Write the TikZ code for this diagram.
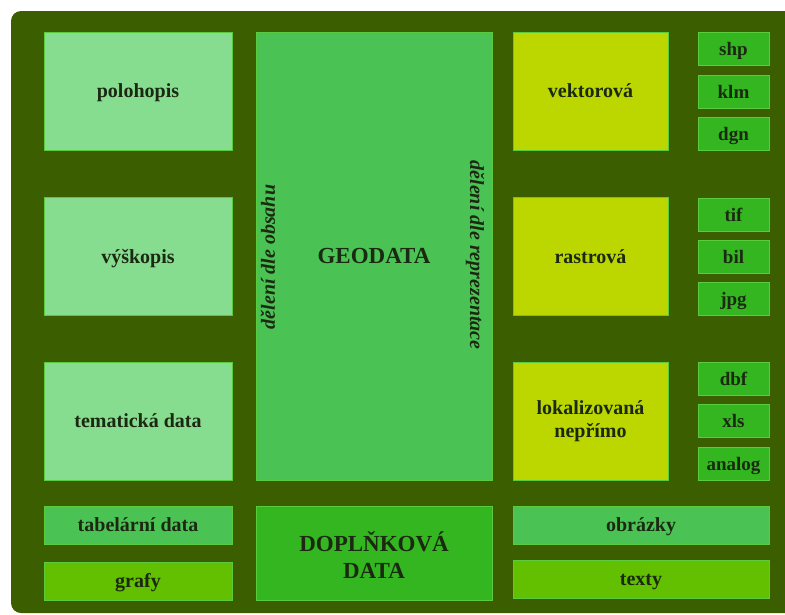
\documentclass[tikz,border=0pt]{standalone}
\usepackage{fontspec}
\setmainfont{Liberation Serif}
\usetikzlibrary{positioning}

\definecolor{bgolive}{HTML}{3B5E00}
\definecolor{palegreen}{HTML}{86DC8F}
\definecolor{midgreen}{HTML}{4BC354}
\definecolor{limegreen}{HTML}{BCD600}
\definecolor{deepgreen}{HTML}{33B61F}
\definecolor{grassgreen}{HTML}{62C000}
\definecolor{inkgreen}{HTML}{1B2912}
\definecolor{edgegreen}{HTML}{5ACB3C}

\tikzset{
  box/.style={rectangle, draw=edgegreen, line width=0.8pt, inner sep=2pt,
    align=center, text=inkgreen, font=\fontsize{20}{23}\selectfont\bfseries},
  oneline/.style={text height=16pt, text depth=2.8pt},
  obsah/.style={box, oneline, fill=palegreen, minimum width=188, minimum height=118},
  repre/.style={box, fill=limegreen, minimum width=155, minimum height=118},
  format/.style={box, oneline, fill=deepgreen, minimum width=71, minimum height=33,
    font=\fontsize{19}{22}\selectfont\bfseries},
  strip/.style={box, oneline, minimum height=38},
  sidelabel/.style={text=inkgreen, font=\fontsize{20}{23}\selectfont\bfseries\itshape}
}

\begin{document}
\begin{tikzpicture}[x=1pt, y=-1pt]
            \useasboundingbox (0,0) rectangle (785,614);
            \clip (0,0) rectangle (785,614);
            \fill[bgolive, rounded corners=10pt] (11,11) rectangle (800,613);

            % deleni dle obsahu
            \node[obsah] (polohopis) at (138, 91) {polohopis};
            \node[obsah] (vyskopis) at (138, 256.5) {výškopis};
            \node[obsah] (tematicka) at (138, 421) {tematická data};

            % stred
            \node[box, fill=midgreen, minimum width=236, minimum height=448,
              text height=16pt, text depth=1pt,
              font=\fontsize{23}{27}\selectfont\bfseries] (geodata) at (374, 256) {GEODATA};
            \node[sidelabel, rotate=90] (obsahlbl) at (268, 257) {dělení dle obsahu};
            \node[sidelabel, rotate=-90] (reprelbl) at (475, 255) {dělení dle reprezentace};

            % deleni dle reprezentace
            \node[repre, oneline] (vektorova) at (590.5, 91) {vektorová};
            \node[repre, oneline] (rastrova) at (590.5, 256.5) {rastrová};
            \node[repre] (neprimo) at (590.5, 421) {lokalizovaná\\nepřímo};

            % formaty
            \node[format] (shp) at (733.5, 49) {shp};
            \node[format] (klm) at (733.5, 91.5) {klm};
            \node[format] (dgn) at (733.5, 133.5) {dgn};
            \node[format] (tif) at (733.5, 214.5) {tif};
            \node[format] (bil) at (733.5, 256.5) {bil};
            \node[format] (jpg) at (733.5, 298.5) {jpg};
            \node[format] (dbf) at (733.5, 379) {dbf};
            \node[format] (xls) at (733.5, 421) {xls};
            \node[format] (analog) at (733.5, 463.5) {analog};

            % doplnkova data
            \node[strip, fill=midgreen, minimum width=188] (tabelarni) at (138, 525) {tabelární data};
            \node[strip, fill=grassgreen, minimum width=188] (grafy) at (138, 581) {grafy};
            \node[box, fill=deepgreen, minimum width=236, minimum height=94,
              font=\fontsize{23}{27}\selectfont\bfseries] (doplnkova) at (374, 553) {\rule{0pt}{25pt}DOPLŇKOVÁ\\DATA};
            \node[strip, fill=midgreen, minimum width=256] (obrazky) at (641, 525) {obrázky};
            \node[strip, fill=grassgreen, minimum width=256] (texty) at (641, 579) {texty};
        \end{tikzpicture}
\end{document}
